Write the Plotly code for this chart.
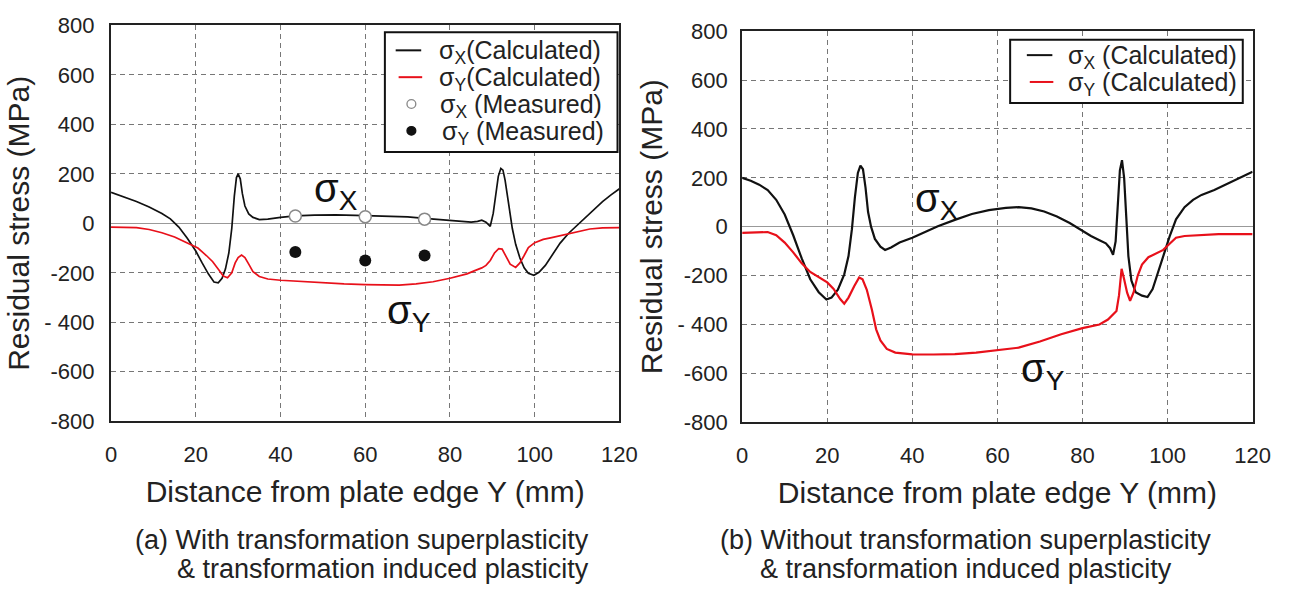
import plotly.graph_objects as go

# ---- (a) with transformation superplasticity & TRIP ----
a_sx_x = [0, 3, 6, 9, 12, 14, 16, 18, 20, 21.5, 23, 24.3, 25.3, 26.2, 27, 27.8, 28.5, 29.1, 29.6, 30.0,
          30.5, 31.0, 31.6, 32.5, 33.5, 35, 37, 40, 43.5, 48, 53, 60, 65, 70, 74, 78, 82, 85, 86.5, 87.5,
          88.5, 89.5, 90.2, 90.8, 91.4, 92.0, 92.5, 93.0, 93.5, 94.0, 94.7, 95.5, 96.5, 97.5, 98.5, 99.8,
          101, 102.5, 104, 106, 108, 110, 112, 114, 116, 118, 120]
a_sx_y = [125, 108, 88, 66, 40, 18, -15, -60, -112, -160, -205, -237, -240, -222, -185, -120, -20, 110, 185, 200,
          180, 120, 70, 38, 24, 15, 17, 24, 30, 33, 34, 31, 29, 26, 20, 14, 9, 5, 8, 13,
          5, -12, 40, 120, 190, 222, 215, 175, 120, 50, -20, -85, -140, -180, -202, -210,
          -198, -170, -130, -80, -40, -8, 25, 60, 88, 115, 140]

a_sy_x = [0, 3, 6, 9, 12, 15, 18, 20.5, 22.5, 24, 25.5, 26.5, 27.5, 28.5, 29.3, 30.0, 30.8, 31.6, 32.5, 33.5,
          35, 37, 40, 45, 50, 55, 60, 65, 68, 72, 76, 80, 82, 84, 86, 87.5, 88.5, 89.5, 90.5, 91.5,
          92.3, 93.2, 94.2, 95.5, 96.5, 97.5, 98.5, 100, 102, 104, 106, 108, 110, 113, 116, 120]
a_sy_y = [-15, -16, -17, -25, -38, -55, -78, -100, -130, -155, -190, -213, -220, -200, -160, -138, -128, -138, -165, -195,
          -215, -225, -230, -236, -241, -245, -248, -250, -250, -245, -236, -222, -214, -204, -190, -180, -170, -150, -120, -102,
          -104, -135, -165, -178, -160, -130, -98, -78, -65, -58, -50, -40, -32, -23, -18, -17]

a_meas_x = [43.5, 60, 74]
a_meas_sx = [30, 27, 17]
a_meas_sy = [-116, -150, -130]

# ---- (b) without transformation superplasticity & TRIP ----
b_sx_x = [0, 2, 4, 6, 8, 10, 12, 14, 16, 18, 19.8, 21, 22.5, 24, 25, 25.8, 26.5, 27.2, 27.8, 28.4,
          29, 29.6, 30.3, 31.2, 32.5, 33.6, 35, 37, 40, 43, 46, 50, 54, 58, 62, 65, 68, 71, 74, 77,
          80, 82, 84, 85.5, 86.5, 87.2, 87.8, 88.3, 88.8, 89.3, 89.8, 90.3, 90.8, 91.5, 92.5, 94, 95.3,
          96.5, 97.5, 99, 100.5, 102, 104, 106, 108, 111, 114, 117, 120]
b_sx_y = [200, 188, 172, 150, 110, 50, -35, -130, -215, -268, -298, -290, -258, -195, -120, -10, 120, 220, 250, 235,
          160, 60, 0, -50, -82, -95, -85, -65, -45, -20, 2, 28, 52, 68, 77, 80, 75, 62, 42, 15,
          -18, -38, -55, -68, -88, -115, -60, 80, 230, 272, 200, 40, -120, -220, -268, -282, -288,
          -255, -200, -120, -40, 30, 80, 110, 130, 150, 175, 200, 225]

b_sy_x = [0, 3, 6, 8, 10, 12, 14, 16, 18, 20, 21.5, 23, 24, 25, 26.3, 27.5, 28.3, 29.3, 30.5, 31.5,
          32.5, 34, 36, 40, 45, 50, 55, 60, 65, 70, 75, 80, 84, 86, 88, 88.6, 89.2, 89.8, 90.5, 91.2,
          92, 93, 94, 95.5, 97, 99, 100.5, 102, 104, 108, 112, 116, 120]
b_sy_y = [-25, -22, -22, -35, -65, -105, -150, -185, -205, -228, -255, -295, -315, -290, -245, -208, -215, -258, -340, -420,
          -465, -500, -515, -522, -523, -521, -515, -506, -495, -470, -440, -415, -400, -380, -345, -280, -172, -215, -270, -303,
          -270, -200, -155, -125, -112, -95, -70, -45, -38, -33, -30, -30, -30]

x_ticks = [0, 20, 40, 60, 80, 100, 120]
y_ticks = [-800, -600, -400, -200, 0, 200, 400, 600, 800]
y_tick_text = ["-800", "-600", "- 400", "-200", "0", "200", "400", "600", "800"]

legend_a = ["σ<sub>X</sub>(Calculated)", "σ<sub>Y</sub>(Calculated)",
            "σ<sub>X</sub> (Measured)", "σ<sub>Y</sub> (Measured)"]
legend_b = ["σ<sub>X</sub> (Calculated)", "σ<sub>Y</sub> (Calculated)"]

BLACK = "#111111"
RED = "#e8101a"
GREY_RING = "#888888"
FONT = "Liberation Sans, Arial, sans-serif"

W, H = 1302, 602


def px_x(p):
    return p / W


def px_y(p):
    return 1 - p / H


fig = go.Figure()

fig.add_trace(go.Scatter(x=a_sx_x, y=a_sx_y, mode="lines", line=dict(color=BLACK, width=1.7),
                         name=legend_a[0], xaxis="x", yaxis="y"))
fig.add_trace(go.Scatter(x=a_sy_x, y=a_sy_y, mode="lines", line=dict(color=RED, width=1.7),
                         name=legend_a[1], xaxis="x", yaxis="y"))
fig.add_trace(go.Scatter(x=a_meas_x, y=a_meas_sx, mode="markers",
                         marker=dict(symbol="circle", size=12, color="white", line=dict(color=GREY_RING, width=1.5)),
                         name=legend_a[2], xaxis="x", yaxis="y"))
fig.add_trace(go.Scatter(x=a_meas_x, y=a_meas_sy, mode="markers",
                         marker=dict(symbol="circle", size=12, color=BLACK),
                         name=legend_a[3], xaxis="x", yaxis="y"))

fig.add_trace(go.Scatter(x=b_sx_x, y=b_sx_y, mode="lines", line=dict(color=BLACK, width=2.2),
                         name=legend_b[0], xaxis="x2", yaxis="y2"))
fig.add_trace(go.Scatter(x=b_sy_x, y=b_sy_y, mode="lines", line=dict(color=RED, width=2.2),
                         name=legend_b[1], xaxis="x2", yaxis="y2"))

axis_common = dict(
    showline=True, linecolor="#222", linewidth=2.2, mirror=True,
    showgrid=True, gridcolor="#777", gridwidth=1, griddash="5px,4px",
    ticks="outside", tickcolor="rgba(0,0,0,0)",
    tickfont=dict(family=FONT, size=22, color="#222"),
)

fig.update_layout(
    width=W, height=H, margin=dict(l=0, r=0, t=0, b=0),
    paper_bgcolor="white", plot_bgcolor="white",
    font=dict(family=FONT, color="#222"),
    showlegend=False,
    xaxis=dict(domain=[px_x(107), px_x(625)], anchor="y", range=[0, 120], tickvals=x_ticks,
               zeroline=False, ticklen=12,
               title=dict(text="Distance from plate edge Y (mm)", font=dict(size=30), standoff=15),
               **axis_common),
    yaxis=dict(domain=[px_y(427), px_y(14)], anchor="x", range=[-800, 800], tickvals=y_ticks,
               ticktext=y_tick_text, zeroline=True, zerolinecolor="#999", zerolinewidth=1.3, ticklen=10,
               title=dict(text="Residual stress (MPa)", font=dict(size=30), standoff=6),
               **axis_common),
    xaxis2=dict(domain=[px_x(750), px_x(1270)], anchor="y2", range=[0, 120], tickvals=x_ticks,
                zeroline=False, ticklen=12,
                title=dict(text="Distance from plate edge Y (mm)", font=dict(size=30), standoff=15),
                **axis_common),
    yaxis2=dict(domain=[px_y(428), px_y(20)], anchor="x2", range=[-800, 800], tickvals=y_ticks,
                ticktext=y_tick_text, zeroline=True, zerolinecolor="#999", zerolinewidth=1.3, ticklen=8,
                title=dict(text="Residual stress (MPa)", font=dict(size=30), standoff=6),
                **axis_common),
)

# ---- legend boxes (drawn as paper-space shapes with text entries) ----
leg_font = dict(family=FONT, size=25, color="#222")


def legend_box(x0, y0, x1, y1):
    fig.add_shape(type="rect", xref="paper", yref="paper",
                  x0=px_x(x0), x1=px_x(x1), y0=px_y(y1), y1=px_y(y0),
                  line=dict(color="#111", width=2), fillcolor="white", layer="above")


def legend_line(x0, x1, y, color):
    fig.add_shape(type="line", xref="paper", yref="paper",
                  x0=px_x(x0), x1=px_x(x1), y0=px_y(y), y1=px_y(y),
                  line=dict(color=color, width=2), layer="above")


def legend_dot(cx, cy, r, fill, edge):
    fig.add_shape(type="circle", xref="paper", yref="paper",
                  x0=px_x(cx - r), x1=px_x(cx + r), y0=px_y(cy + r), y1=px_y(cy - r),
                  line=dict(color=edge, width=1.3), fillcolor=fill, layer="above")


def legend_text(x, y, text):
    fig.add_annotation(x=px_x(x), y=px_y(y), xref="paper", yref="paper", xanchor="left", yanchor="middle",
                       text=text, showarrow=False, font=leg_font, borderpad=0)


legend_box(386, 21, 623, 146)
legend_line(397, 423, 40, BLACK)
legend_line(400, 424, 68, RED)
legend_dot(413, 96, 4.5, "white", GREY_RING)
legend_dot(413, 124, 4.5, BLACK, BLACK)
legend_text(440, 42, legend_a[0])
legend_text(440, 70, legend_a[1])
legend_text(441, 98, legend_a[2])
legend_text(443, 126, legend_a[3])

legend_box(1023, 29, 1260, 95)
legend_line(1040, 1066, 45, BLACK)
legend_line(1043, 1067, 73, RED)
legend_text(1081, 47, legend_b[0])
legend_text(1081, 75, legend_b[1])

# curve labels
lab_font = dict(family=FONT, size=40, color="#111")
fig.add_annotation(x=53, y=130, xref="x", yref="y", text="σ<sub>X</sub>", showarrow=False, font=lab_font)
fig.add_annotation(x=70.4, y=-364, xref="x", yref="y", text="σ<sub>Y</sub>", showarrow=False, font=lab_font)
fig.add_annotation(x=45.7, y=106, xref="x2", yref="y2", text="σ<sub>X</sub>", showarrow=False, font=lab_font)
fig.add_annotation(x=70.8, y=-592, xref="x2", yref="y2", text="σ<sub>Y</sub>", showarrow=False, font=lab_font)

# panel captions
cap_font = dict(family=FONT, size=27, color="#222")
fig.add_annotation(x=px_x(596), y=px_y(551), xref="paper", yref="paper", xanchor="right", yanchor="middle",
                   text="(a) With transformation superplasticity", showarrow=False, font=cap_font)
fig.add_annotation(x=px_x(596), y=px_y(581), xref="paper", yref="paper", xanchor="right", yanchor="middle",
                   text="& transformation induced plasticity", showarrow=False, font=cap_font)
fig.add_annotation(x=px_x(978), y=px_y(551), xref="paper", yref="paper", xanchor="center", yanchor="middle",
                   text="(b) Without transformation superplasticity", showarrow=False, font=cap_font)
fig.add_annotation(x=px_x(978), y=px_y(581), xref="paper", yref="paper", xanchor="center", yanchor="middle",
                   text="& transformation induced plasticity", showarrow=False, font=cap_font)

fig.write_html("out.html")
